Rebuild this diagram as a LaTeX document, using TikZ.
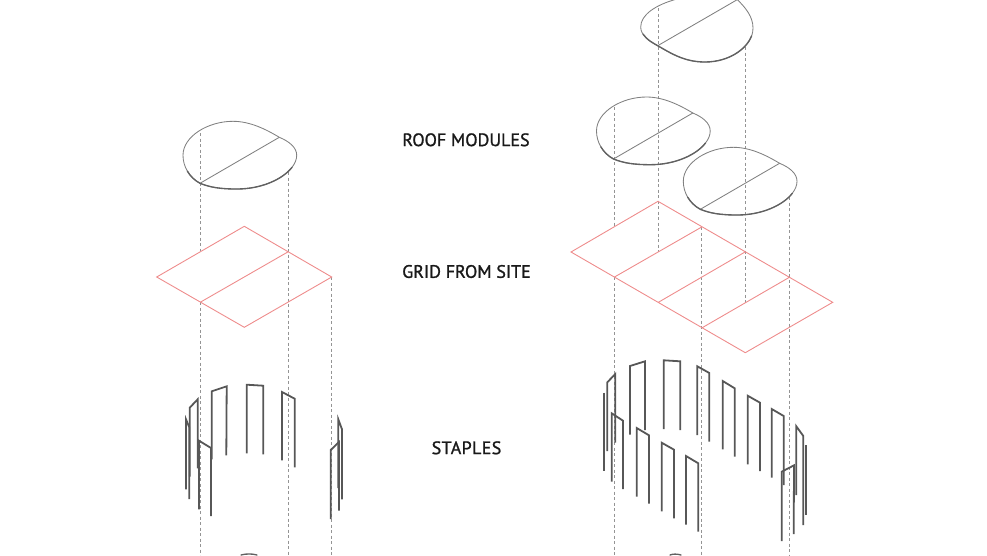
\documentclass[tikz,border=0pt]{standalone}
\usepackage{fontspec}
\setmainfont[FakeBold=1.2]{PT Sans}
\tikzset{
  guide/.style={draw=black!42,line width=0.95pt,dash pattern=on 3pt off 2.5pt},
  gridline/.style={draw=red!85!black!45,line width=0.9pt,line join=miter},
  staple/.style={draw=black!66,line width=1.8pt,line join=miter},
  roofline/.style={draw=black!50,line width=0.85pt},
  roofheavy/.style={draw=black!62,line width=1.35pt,line cap=round},
  lbl/.style={font=\fontsize{18}{20}\selectfont,text=black!90,inner sep=0pt},
  pics/roof/.style={code={
    \draw[roofline] (0,0) .. controls (-11,-6) and (-17,-17) .. (-17,-28)
      .. controls (-17,-47) and (8,-62) .. (33,-62)
      .. controls (50,-62) and (66,-54) .. (79.3,-46)
      .. controls (89,-42) and (96.7,-36) .. (96.7,-28)
      .. controls (96.7,-12) and (70,5.7) .. (37,5.7)
      .. controls (20,5.7) and (10,4) .. (0,0) -- cycle;
    \draw[roofline] (0,0) -- (79.3,-46);
    \draw[roofheavy] (-12.6,-12.1) .. controls (-9.75,-7.25) and (-5.5,-3) .. (0,0)
      .. controls (10,4) and (20,5.7) .. (37,5.7)
      .. controls (61.75,5.7) and (82.96,-4.26) .. (92.01,-15.99);
  }}
}
\newcommand{\stp}[4]{\draw[staple] #1 -- #2 -- #3 -- #4;}
\begin{document}
\begin{tikzpicture}[x=1pt,y=-1pt]
\useasboundingbox (0,0) rectangle (987,555);
\clip (0,0) rectangle (987,555);
% left grid corners
\coordinate (la) at (244.3,226.3);
\coordinate (lb) at (331.7,277);
\coordinate (lc) at (244.3,327.3);
\coordinate (ld) at (156.7,277);
\coordinate (le) at (200.7,302);
\coordinate (lf) at (288.3,251.7);
\coordinate (lg) at (200.7,251.3);
% right grid corners
\coordinate (ra) at (658,201.3);
\coordinate (rb) at (832.7,302.3);
\coordinate (rc) at (745.3,352.7);
\coordinate (rd) at (571,252);
\coordinate (re1) at (614.5,277);
\coordinate (rf1) at (701.7,227);
\coordinate (re2) at (658,302.5);
\coordinate (rf2) at (745,252);
\coordinate (re3) at (701.7,328);
\coordinate (rf3) at (789,277.5);
\coordinate (rg) at (614.5,227);
\coordinate (rh) at (658,252);
\coordinate (ri) at (745,303);
% guides
\draw[guide] (200.7,133) -- (lg);
\draw[guide] (le) -- (200.7,555);
\draw[guide] (288.3,172) -- (288.3,555);
\draw[guide] (lb) -- (331.7,555);
\draw[guide] (614.5,107) -- (rg);
\draw[guide] (re1) -- (614.5,555);
\draw[guide] (658,8) -- (rh);
\draw[guide] (rf1) -- (701.7,555);
\draw[guide] (745,47) -- (ri);
\draw[guide] (789,197) -- (789,555);
% grids
\draw[gridline] (la) -- (lb) -- (lc) -- (ld) -- cycle (le) -- (lf);
\draw[gridline] (ra) -- (rb) -- (rc) -- (rd) -- cycle (re1) -- (rf1) (re2) -- (rf2) (re3) -- (rf3);
% roofs
\pic at (200,183.3) {roof};
\pic at (613.5,159) {roof};
\pic at (700.3,209.3) {roof};
% top roof, cut by the picture edge
\draw[roofline] (657.7,45.7) .. controls (648,40) and (640.7,35) .. (640.7,27)
  .. controls (640.7,15) and (655,5) .. (677,-1);
\draw[roofline] (736.7,-1) .. controls (746,8) and (753,17) .. (753,28)
  .. controls (753,47) and (730,62) .. (705,62)
  .. controls (685,62) and (672,54) .. (657.7,45.7);
\draw[roofline] (657.7,45.7) -- (737.5,-0.5);
\draw[roofheavy] (643,34) .. controls (647,40) and (652,42.5) .. (657.7,45.7)
  .. controls (672,54) and (685,62) .. (705,62)
  .. controls (730,62) and (747,48) .. (751.5,36);
% left staples
\stp{(186,489.3)}{(186,419.3)}{(189.3,427.3)}{(189.3,499)}
\stp{(189.7,476.7)}{(189.7,407.7)}{(197.7,399.3)}{(197.7,468.3)}
\stp{(199,509.3)}{(199,440.7)}{(211,448)}{(211,516)}
\stp{(211.7,459.3)}{(211.7,391.3)}{(226.7,386.3)}{(226.3,455.3)}
\stp{(246.7,453.3)}{(246.7,384.7)}{(263.3,385.7)}{(263.3,454.3)}
\stp{(282,460.3)}{(282,392)}{(294.7,398.7)}{(294.7,467.3)}
\stp{(330.7,519)}{(330.7,450)}{(339,442)}{(339,510.7)}
\stp{(338.3,488)}{(338.3,419.3)}{(342,429.3)}{(342,499.3)}
% right staples
\draw[staple] (604,392.7) -- (604,471.3);
\stp{(607.3,451)}{(607.3,382.3)}{(615.3,374)}{(615.3,442.7)}
\stp{(611.7,481.7)}{(611.7,413.3)}{(623,420.7)}{(623,489)}
\stp{(630,434.7)}{(630,366)}{(645,361.3)}{(645,430)}
\stp{(663.7,429)}{(663.7,360.3)}{(680.3,361.3)}{(680.3,430)}
\stp{(697.3,435)}{(697.3,366.3)}{(709.3,373)}{(709.3,441.7)}
\stp{(636.7,496.7)}{(636.7,428)}{(649,435.3)}{(649,503.7)}
\stp{(661.7,511.3)}{(661.7,442.7)}{(674,449.7)}{(674,518.3)}
\stp{(686,524.7)}{(686,456)}{(698.3,463.3)}{(698.3,531.7)}
\stp{(722.7,449.3)}{(722.7,381)}{(734.7,388.3)}{(734.7,456.7)}
\stp{(747.7,464.3)}{(747.7,395.7)}{(760,402.7)}{(760,471)}
\stp{(771.7,477.7)}{(771.7,409)}{(783.7,416)}{(783.7,485)}
\stp{(781.7,541)}{(781.7,471.7)}{(794,465.3)}{(793.7,534)}
\stp{(796.3,495)}{(796.3,426.3)}{(803.3,436)}{(803.3,525)}
\draw[staple] (805.7,445) -- (805.7,515);
% bottom fragments
\draw[roofheavy] (241,555) .. controls (246,553.6) and (252,553.6) .. (257,555);
\draw[roofheavy] (670,555) .. controls (673,553.8) and (677,553.8) .. (681,555);
% labels
\node[lbl] (t1) at (466,139.8) {ROOF MODULES};
\node[lbl] (t2) at (466.5,271.5) {GRID FROM SITE};
\node[lbl] (t3) at (466.5,447.8) {\addfontfeature{LetterSpace=2}STAPLES};
\end{tikzpicture}
\end{document}
